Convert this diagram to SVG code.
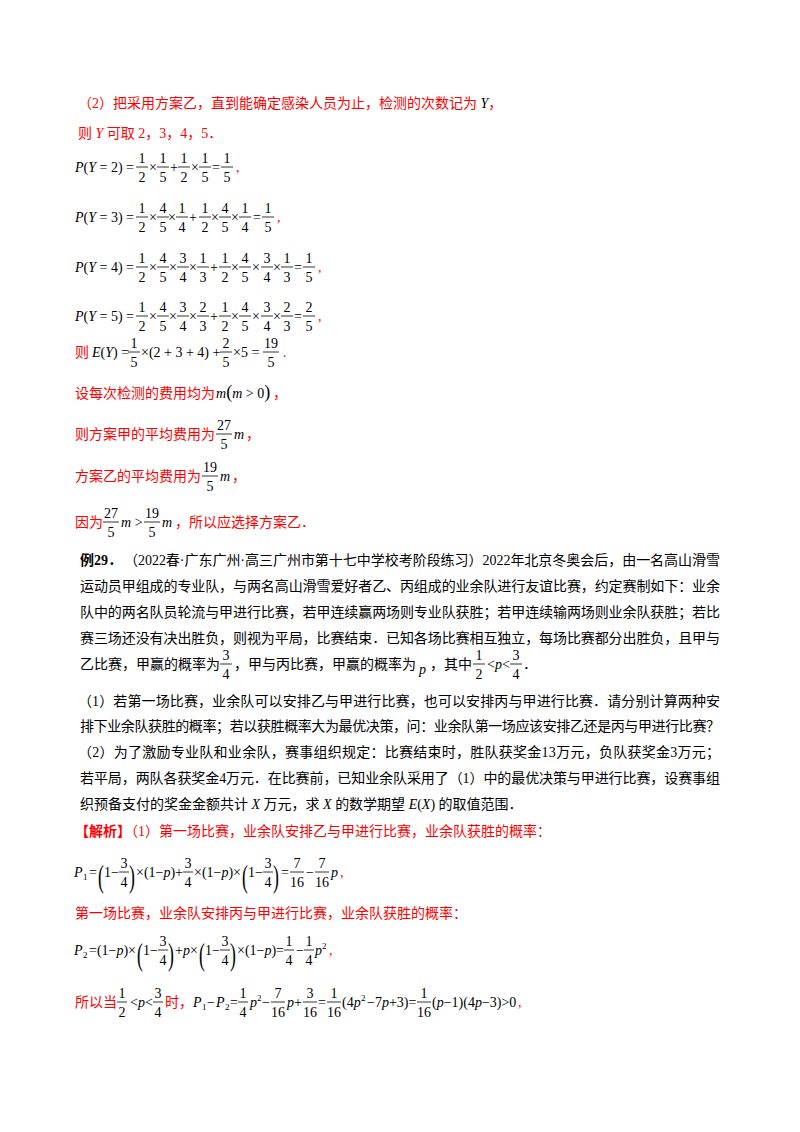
<svg xmlns="http://www.w3.org/2000/svg" width="800" height="1132" viewBox="0 0 800 1132">
<style>
.t{font-family:"Liberation Serif","Noto Sans CJK SC",serif;font-size:14px;fill:#000}
.r{fill:#ff0000}
.m{font-family:"Liberation Serif",serif;font-size:14px;fill:#000}
.f{font-family:"Liberation Serif",serif;font-size:14px;fill:#000;text-anchor:middle}
.s{font-family:"Liberation Serif",serif;font-size:9px;fill:#000}
.i{font-style:italic}
.b{stroke:#000;stroke-width:0.8}
.bp{font-family:"Liberation Serif",serif;font-size:32px;fill:#000}
</style>
<rect width="800" height="1132" fill="#fff"/>
<text class="t r" x="78" y="108">（2）把采用方案乙，直到能确定感染人员为止，检测的次数记为 <tspan class="i" fill="#000">Y</tspan>，</text>
<text class="t r" x="78" y="138">则 <tspan class="i">Y</tspan> 可取 2，3，4，5．</text>

<text class="m" x="75" y="172"><tspan class="i">P</tspan>(<tspan class="i">Y</tspan> = 2) =</text>
<g class="f"><text x="142" y="163">1</text><text x="142" y="182">2</text><text x="163" y="163">1</text><text x="163" y="182">5</text><text x="184" y="163">1</text><text x="184" y="182">2</text><text x="205" y="163">1</text><text x="205" y="182">5</text><text x="227" y="163">1</text><text x="227" y="182">5</text>
<text x="153" y="172">×</text><text x="174" y="172">+</text><text x="195" y="172">×</text><text x="216" y="172">=</text></g>
<path class="b" d="M136 167h12M157 167h12M178 167h12M199 167h12M221 167h12"/>
<text class="t r" x="236" y="172">,</text>

<text class="m" x="75" y="222"><tspan class="i">P</tspan>(<tspan class="i">Y</tspan> = 3) =</text>
<g class="f"><text x="142" y="213">1</text><text x="142" y="232">2</text><text x="163" y="213">4</text><text x="163" y="232">5</text><text x="182" y="213">1</text><text x="182" y="232">4</text><text x="205" y="213">1</text><text x="205" y="232">2</text><text x="225" y="213">4</text><text x="225" y="232">5</text><text x="245" y="213">1</text><text x="245" y="232">4</text><text x="268" y="213">1</text><text x="268" y="232">5</text>
<text x="153" y="222">×</text><text x="172" y="222">×</text><text x="193" y="222">+</text><text x="215" y="222">×</text><text x="235" y="222">×</text><text x="257" y="222">=</text></g>
<path class="b" d="M136 217h12M157 217h12M176 217h12M199 217h12M219 217h12M239 217h12M262 217h12"/>
<text class="t r" x="277" y="222">,</text>

<text class="m" x="75" y="272"><tspan class="i">P</tspan>(<tspan class="i">Y</tspan> = 4) =</text>
<g class="f"><text x="142" y="263">1</text><text x="142" y="282">2</text><text x="163" y="263">4</text><text x="163" y="282">5</text><text x="183" y="263">3</text><text x="183" y="282">4</text><text x="203" y="263">1</text><text x="203" y="282">3</text><text x="225" y="263">1</text><text x="225" y="282">2</text><text x="245" y="263">4</text><text x="245" y="282">5</text><text x="267" y="263">3</text><text x="267" y="282">4</text><text x="287" y="263">1</text><text x="287" y="282">3</text><text x="309" y="263">1</text><text x="309" y="282">5</text>
<text x="153" y="272">×</text><text x="173" y="272">×</text><text x="193" y="272">×</text><text x="214" y="272">+</text><text x="235" y="272">×</text><text x="256" y="272">×</text><text x="277" y="272">×</text><text x="298" y="272">=</text></g>
<path class="b" d="M136 267h12M157 267h12M177 267h12M197 267h12M219 267h12M239 267h12M261 267h12M281 267h12M303 267h12"/>
<text class="t r" x="318" y="272">,</text>

<text class="m" x="75" y="321"><tspan class="i">P</tspan>(<tspan class="i">Y</tspan> = 5) =</text>
<g class="f"><text x="142" y="312">1</text><text x="142" y="331">2</text><text x="163" y="312">4</text><text x="163" y="331">5</text><text x="183" y="312">3</text><text x="183" y="331">4</text><text x="203" y="312">2</text><text x="203" y="331">3</text><text x="225" y="312">1</text><text x="225" y="331">2</text><text x="245" y="312">4</text><text x="245" y="331">5</text><text x="267" y="312">3</text><text x="267" y="331">4</text><text x="287" y="312">2</text><text x="287" y="331">3</text><text x="309" y="312">2</text><text x="309" y="331">5</text>
<text x="153" y="321">×</text><text x="173" y="321">×</text><text x="193" y="321">×</text><text x="214" y="321">+</text><text x="235" y="321">×</text><text x="256" y="321">×</text><text x="277" y="321">×</text><text x="298" y="321">=</text></g>
<path class="b" d="M136 316h12M157 316h12M177 316h12M197 316h12M219 316h12M239 316h12M261 316h12M281 316h12M303 316h12"/>
<text class="t r" x="318" y="321">,</text>

<text class="t r" x="75" y="357">则</text>
<text class="m" x="92" y="357"><tspan class="i">E</tspan>(<tspan class="i">Y</tspan>) =</text>
<g class="f"><text x="134" y="348">1</text><text x="134" y="367">5</text><text x="226" y="348">2</text><text x="226" y="367">5</text><text x="271" y="348">19</text><text x="271" y="367">5</text></g>
<text class="m" x="141" y="357">×(2 + 3 + 4) +</text>
<text class="m" x="233" y="357">×5 =</text>
<path class="b" d="M128 352h12M220 352h12M263 352h16"/>
<text class="t r" x="283" y="357">.</text>

<text class="t r" x="75" y="398">设每次检测的费用均为</text>
<text class="m" x="216" y="398"><tspan class="i">m</tspan><tspan font-size="18">(</tspan><tspan class="i">m</tspan> &gt; 0<tspan font-size="18">)</tspan></text>
<text class="t r" x="273" y="398">，</text>

<text class="t r" x="75" y="439">则方案甲的平均费用为</text>
<g class="f"><text x="224" y="430">27</text><text x="224" y="449">5</text></g>
<path class="b" d="M216 434h16"/>
<text class="m i" x="234" y="439">m</text><text class="t r" x="246" y="439">，</text>

<text class="t r" x="75" y="481">方案乙的平均费用为</text>
<g class="f"><text x="210" y="472">19</text><text x="210" y="491">5</text></g>
<path class="b" d="M202 476h16"/>
<text class="m i" x="220" y="481">m</text><text class="t r" x="232" y="481">，</text>

<text class="t r" x="75" y="527">因为</text>
<g class="f"><text x="111" y="518">27</text><text x="111" y="537">5</text><text x="152" y="518">19</text><text x="152" y="537">5</text></g>
<path class="b" d="M103 522h16M144 522h16"/>
<text class="m" x="121" y="527"><tspan class="i">m</tspan> &gt;</text>
<text class="m i" x="162" y="527">m</text>
<text class="t r" x="175" y="527">，所以应选择方案乙．</text>

<g id="example">
<text class="t" x="80" y="565"><tspan font-weight="bold">例29．</tspan></text>
<text class="t" x="124" y="565" textLength="596">（2022春·广东广州·高三广州市第十七中学校考阶段练习）2022年北京冬奥会后，由一名高山滑雪</text>
<text class="t" x="80" y="591" textLength="640">运动员甲组成的专业队，与两名高山滑雪爱好者乙、丙组成的业余队进行友谊比赛，约定赛制如下：业余</text>
<text class="t" x="80" y="617" textLength="640">队中的两名队员轮流与甲进行比赛，若甲连续赢两场则专业队获胜；若甲连续输两场则业余队获胜；若比</text>
<text class="t" x="80" y="643" textLength="640">赛三场还没有决出胜负，则视为平局，比赛结束．已知各场比赛相互独立，每场比赛都分出胜负，且甲与</text>
<text class="t" x="80" y="669">乙比赛，甲赢的概率为</text>
<g class="f"><text x="226" y="660">3</text><text x="226" y="679">4</text><text x="479" y="660">1</text><text x="479" y="679">2</text><text x="516" y="660">3</text><text x="516" y="679">4</text></g>
<path class="b" d="M220 664h12M473 664h12M510 664h12"/>
<text class="t" x="234" y="669">，甲与丙比赛，甲赢的概率为</text>
<text class="m i" x="419" y="674">p</text>
<text class="t" x="430" y="669">，其中</text>
<text class="m" x="487" y="669">&lt;<tspan class="i">p</tspan>&lt;</text>
<text class="t" x="523" y="669">．</text>
<text class="t" x="78" y="706" textLength="642">（1）若第一场比赛，业余队可以安排乙与甲进行比赛，也可以安排丙与甲进行比赛．请分别计算两种安</text>
<text class="t" x="80" y="731" textLength="640">排下业余队获胜的概率；若以获胜概率大为最优决策，问：业余队第一场应该安排乙还是丙与甲进行比赛？</text>
<text class="t" x="78" y="757" textLength="642">（2）为了激励专业队和业余队，赛事组织规定：比赛结束时，胜队获奖金13万元，负队获奖金3万元；</text>
<text class="t" x="80" y="783" textLength="640">若平局，两队各获奖金4万元．在比赛前，已知业余队采用了（1）中的最优决策与甲进行比赛，设赛事组</text>
<text class="t" x="80" y="809">织预备支付的奖金金额共计 <tspan class="i">X</tspan> 万元，求 <tspan class="i">X</tspan> 的数学期望 <tspan class="i">E</tspan>(<tspan class="i">X</tspan>) 的取值范围．</text>
</g>
<text class="t r" x="75" y="836"><tspan font-weight="bold">【解析】</tspan>（1）第一场比赛，业余队安排乙与甲进行比赛，业余队获胜的概率：</text>

<!-- P1 -->
<text class="m i" x="74" y="877">P</text><text class="s" x="83" y="880">1</text>
<text class="m" x="89" y="877">=</text>
<text class="bp" transform="translate(98,887) scale(0.55,1)">(</text>
<text class="m" x="104" y="877">1−</text>
<text class="bp" transform="translate(129,887) scale(0.55,1)">)</text>
<text class="m" x="136" y="877">×(1−<tspan class="i">p</tspan>)+</text>
<text class="m" x="194" y="877">×(1−<tspan class="i">p</tspan>)×</text>
<text class="bp" transform="translate(242,887) scale(0.55,1)">(</text>
<text class="m" x="248" y="877">1−</text>
<text class="bp" transform="translate(273,887) scale(0.55,1)">)</text>
<text class="m" x="281" y="877">=</text>
<text class="m" x="306" y="877">−</text>
<text class="m i" x="331" y="877">p</text>
<g class="f"><text x="124" y="868">3</text><text x="124" y="887">4</text><text x="188" y="868">3</text><text x="188" y="887">4</text><text x="268" y="868">3</text><text x="268" y="887">4</text><text x="297" y="868">7</text><text x="297" y="887">16</text><text x="322" y="868">7</text><text x="322" y="887">16</text></g>
<path class="b" d="M119 872h10M183 872h10M263 872h10M290 872h14M315 872h14"/>
<text class="t r" x="340" y="877">,</text>

<text class="t r" x="75" y="918">第一场比赛，业余队安排丙与甲进行比赛，业余队获胜的概率：</text>

<!-- P2 -->
<text class="m i" x="74" y="955">P</text><text class="s" x="83" y="958">2</text>
<text class="m" x="89" y="955">=(1−<tspan class="i">p</tspan>)×</text>
<text class="bp" transform="translate(137,965) scale(0.55,1)">(</text>
<text class="m" x="143" y="955">1−</text>
<text class="bp" transform="translate(168,965) scale(0.55,1)">)</text>
<text class="m" x="175" y="955">+<tspan class="i">p</tspan>×</text>
<text class="bp" transform="translate(199,965) scale(0.55,1)">(</text>
<text class="m" x="205" y="955">1−</text>
<text class="bp" transform="translate(230,965) scale(0.55,1)">)</text>
<text class="m" x="237" y="955">×(1−<tspan class="i">p</tspan>)=</text>
<text class="m" x="296" y="955">−</text>
<text class="m i" x="315" y="955">p</text><text class="s" x="322" y="949">2</text>
<g class="f"><text x="163" y="946">3</text><text x="163" y="965">4</text><text x="225" y="946">3</text><text x="225" y="965">4</text><text x="289" y="946">1</text><text x="289" y="965">4</text><text x="309" y="946">1</text><text x="309" y="965">4</text></g>
<path class="b" d="M158 950h10M220 950h10M284 950h10M304 950h10"/>
<text class="t r" x="329" y="955">,</text>

<!-- last line -->
<text class="t r" x="75" y="1007">所以当</text>
<g class="f"><text x="122" y="998">1</text><text x="122" y="1017">2</text><text x="158" y="998">3</text><text x="158" y="1017">4</text><text x="243" y="998">1</text><text x="243" y="1017">4</text><text x="278" y="998">7</text><text x="278" y="1017">16</text><text x="310" y="998">3</text><text x="310" y="1017">16</text><text x="334" y="998">1</text><text x="334" y="1017">16</text><text x="424" y="998">1</text><text x="424" y="1017">16</text></g>
<path class="b" d="M117 1002h10M153 1002h10M238 1002h10M271 1002h14M303 1002h14M327 1002h14M417 1002h14"/>
<text class="m" x="130" y="1007">&lt;<tspan class="i">p</tspan>&lt;</text>
<text class="t r" x="165" y="1007">时，</text>
<text class="m i" x="193" y="1007">P</text><text class="s" x="202" y="1010">1</text>
<text class="m" x="207" y="1007">−</text>
<text class="m i" x="216" y="1007">P</text><text class="s" x="225" y="1010">2</text>
<text class="m" x="230" y="1007">=</text>
<text class="m i" x="250" y="1007">p</text><text class="s" x="257" y="1001">2</text>
<text class="m" x="262" y="1007">−</text>
<text class="m" x="287" y="1007"><tspan class="i">p</tspan>+</text>
<text class="m" x="318" y="1007">=</text>
<text class="m" x="342" y="1007">(4<tspan class="i">p</tspan></text><text class="s" x="361" y="1001">2</text>
<text class="m" x="367" y="1007">−7<tspan class="i">p</tspan>+3)=</text>
<text class="m" x="432" y="1007">(<tspan class="i">p</tspan>−1)(4<tspan class="i">p</tspan>−3)&gt;0</text>
<text class="t r" x="518" y="1007">,</text>
</svg>
